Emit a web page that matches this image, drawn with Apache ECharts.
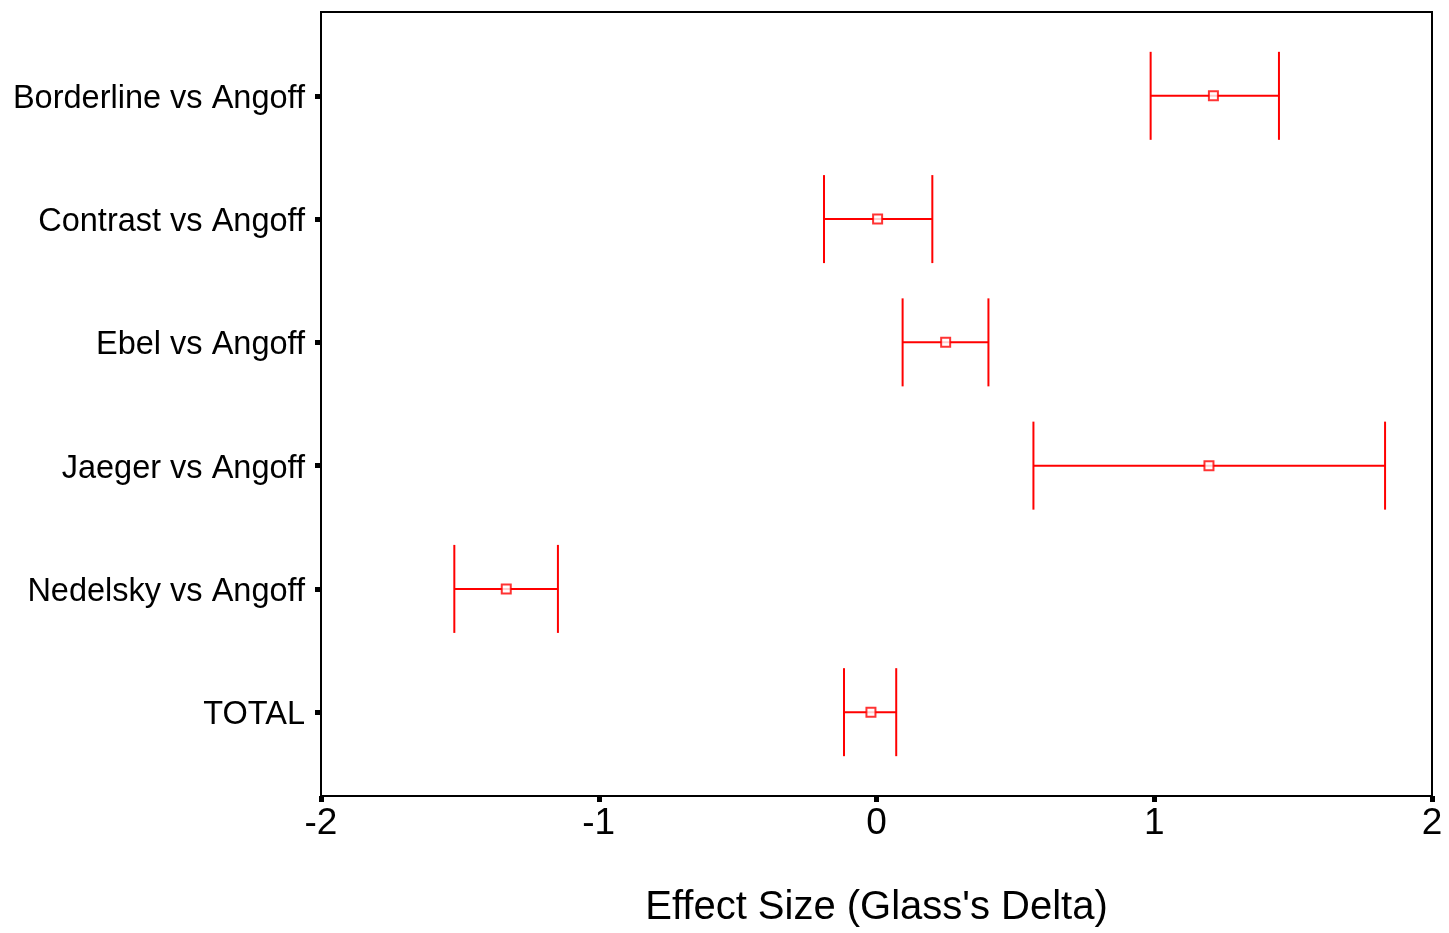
<!DOCTYPE html>
<html>
<head>
<meta charset="utf-8">
<script src="https://cdn.jsdelivr.net/npm/echarts@6/dist/echarts.min.js"></script>
<style>
  html, body { margin: 0; padding: 0; background: #fff; }
  #chart { width: 1449px; height: 933px; }
</style>
</head>
<body>
<div id="chart"></div>
<script>
// comparisons, top to bottom
const categories = ['Borderline vs Angoff', 'Contrast vs Angoff', 'Ebel vs Angoff',
  'Jaeger vs Angoff', 'Nedelsky vs Angoff', 'TOTAL'];
const means = [1.213, 0.004, 0.249, 1.197, -1.333, -0.020];
const lower = [0.987, -0.189, 0.094, 0.565, -1.520, -0.117];
const upper = [1.449, 0.201, 0.403, 1.831, -1.147, 0.071];
const xTicks = [-2, -1, 0, 1, 2];

const RED = '#ff0000';
const FONT = '"Liberation Sans", Arial, sans-serif';
const catIdx = categories.map((c, i) => i);

const chart = echarts.init(document.getElementById('chart'));

const barData = categories.map((c, i) => [lower[i], upper[i], i]);
const meanData = categories.map((c, i) => [means[i], i]);

chart.setOption({
  animation: false,
  backgroundColor: '#fff',
  grid: {
    left: 321, right: 17, top: 12, bottom: 137,
    show: true, borderColor: '#000', borderWidth: 2, backgroundColor: '#fff'
  },
  xAxis: {
    type: 'value',
    min: xTicks[0], max: xTicks[xTicks.length - 1], interval: 1,
    name: "Effect Size (Glass's Delta)",
    nameLocation: 'middle',
    nameGap: 92,
    nameTextStyle: { fontFamily: FONT, fontSize: 40, color: '#000' },
    axisLine: { show: true, onZero: false, lineStyle: { color: '#000', width: 2 } },
    axisTick: { show: true, length: 6, lineStyle: { color: '#000', width: 5 } },
    axisLabel: { fontFamily: FONT, fontSize: 37, color: '#000', margin: 9 },
    splitLine: { show: false }
  },
  yAxis: {
    type: 'value',
    inverse: true,
    min: -0.68, max: 5.68,
    axisLine: { show: true, onZero: false, lineStyle: { color: '#000', width: 2 } },
    axisTick: {
      show: true, customValues: catIdx, length: 6,
      lineStyle: { color: '#000', width: 5 }
    },
    axisLabel: {
      customValues: catIdx,
      formatter: v => '{c|' + categories[v] + '}',
      margin: 16,
      rich: {
        c: { fontFamily: FONT, fontSize: 32.5, color: '#000', padding: [6, 0, 0, 0] }
      }
    },
    splitLine: { show: false }
  },
  series: [
    {
      type: 'custom',
      data: barData,
      renderItem: function (params, api) {
        const lo = api.coord([api.value(0), api.value(2)]);
        const hi = api.coord([api.value(1), api.value(2)]);
        const h = 44;
        const style = { stroke: RED, lineWidth: 2 };
        return {
          type: 'group',
          children: [
            { type: 'line', shape: { x1: lo[0], y1: lo[1], x2: hi[0], y2: hi[1] }, style: style },
            { type: 'line', shape: { x1: lo[0], y1: lo[1] - h, x2: lo[0], y2: lo[1] + h }, style: style },
            { type: 'line', shape: { x1: hi[0], y1: hi[1] - h, x2: hi[0], y2: hi[1] + h }, style: style }
          ]
        };
      },
      z: 2
    },
    {
      type: 'scatter',
      data: meanData,
      symbol: 'rect',
      symbolSize: 9,
      itemStyle: { color: '#fff', borderColor: RED, borderWidth: 2 },
      z: 3
    }
  ]
});
</script>
</body>
</html>
